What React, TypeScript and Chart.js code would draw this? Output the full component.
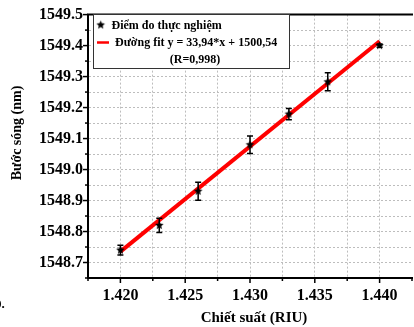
import React, { useEffect, useRef } from "react";
import { Chart, registerables } from "chart.js";

Chart.register(...registerables);

// Measured data
const xValues = [1.42, 1.423, 1.426, 1.43, 1.433, 1.436, 1.44];
const yValues = [1548.74, 1548.82, 1548.93, 1549.08, 1549.179, 1549.283, 1549.4];
const yErrors = [0.016, 0.023, 0.029, 0.028, 0.018, 0.029, 0.005];

// Fit line end points
const fitX = [1.42, 1.44];
const fitY = [1548.735, 1549.414];

const legendPoints = "Điểm đo thực nghiệm";
const legendFit = "Đường fit y = 33,94*x + 1500,54";
const legendR = "(R=0,998)";
const xTitle = "Chiết suất (RIU)";
const yTitle = "Bước sóng (nm)";

const FONT = '"Liberation Serif", "Times New Roman", serif';

function makeStar(r: number): HTMLCanvasElement {
  const c = document.createElement("canvas");
  const s = Math.ceil(r * 2 + 2);
  c.width = s;
  c.height = s;
  const g = c.getContext("2d")!;
  g.fillStyle = "#000";
  g.beginPath();
  for (let i = 0; i < 10; i++) {
    const rr = i % 2 === 0 ? r : r * 0.45;
    const a = -Math.PI / 2 + (i * Math.PI) / 5;
    const px = s / 2 + rr * Math.cos(a);
    const py = s / 2 + rr * Math.sin(a);
    if (i === 0) g.moveTo(px, py);
    else g.lineTo(px, py);
  }
  g.closePath();
  g.fill();
  return c;
}

const isMultiple = (v: number, step: number) =>
  Math.abs(v / step - Math.round(v / step)) < 1e-6;

export default function App() {
  const ref = useRef<HTMLCanvasElement>(null);

  useEffect(() => {
    if (!ref.current) return;
    const star = makeStar(4.5);
    const legendStar = makeStar(4.5);

    const framePlugin = {
      id: "frame",
      beforeDatasetsDraw(chart: any) {
        const { ctx, chartArea } = chart;
        ctx.save();
        ctx.strokeStyle = "#000";
        ctx.lineWidth = 2;
        ctx.beginPath();
        ctx.moveTo(chartArea.left - 1, chartArea.top);
        ctx.lineTo(chartArea.right + 1, chartArea.top);
        ctx.stroke();
        // tick marks
        const xs = chart.scales.x;
        const ys = chart.scales.y;
        ctx.lineWidth = 1.5;
        xs.ticks.forEach((t: any) => {
          const px = xs.getPixelForValue(t.value);
          const len = isMultiple(t.value, 0.005) ? 5 : 3;
          ctx.beginPath();
          ctx.moveTo(px, chartArea.bottom);
          ctx.lineTo(px, chartArea.bottom + len);
          ctx.stroke();
        });
        ys.ticks.forEach((t: any) => {
          const py = ys.getPixelForValue(t.value);
          const len = isMultiple(t.value, 0.1) ? 5 : 3;
          ctx.beginPath();
          ctx.moveTo(chartArea.left, py);
          ctx.lineTo(chartArea.left - len, py);
          ctx.stroke();
        });
        ctx.restore();
      },
      afterDatasetsDraw(chart: any) {
        const { ctx } = chart;
        const ys = chart.scales.y;
        const meta = chart.getDatasetMeta(1);
        ctx.save();
        ctx.strokeStyle = "#000";
        ctx.lineWidth = 1.5;
        meta.data.forEach((pt: any, i: number) => {
          const x = pt.x;
          const y1 = ys.getPixelForValue(yValues[i] + yErrors[i]);
          const y2 = ys.getPixelForValue(yValues[i] - yErrors[i]);
          ctx.beginPath();
          ctx.moveTo(x, y1);
          ctx.lineTo(x, y2);
          ctx.moveTo(x - 3, y1);
          ctx.lineTo(x + 3, y1);
          ctx.moveTo(x - 3, y2);
          ctx.lineTo(x + 3, y2);
          ctx.stroke();
        });
        ctx.restore();
      },
      afterDraw(chart: any) {
        const { ctx } = chart;
        ctx.save();
        // legend box
        ctx.fillStyle = "#fff";
        ctx.fillRect(93, 14, 196, 54);
        ctx.strokeStyle = "#333";
        ctx.lineWidth = 1;
        ctx.strokeRect(93.5, 14.5, 196, 54);
        ctx.drawImage(legendStar, 100.7 - legendStar.width / 2, 25 - legendStar.height / 2);
        ctx.strokeStyle = "#ff0000";
        ctx.lineWidth = 2.5;
        ctx.beginPath();
        ctx.moveTo(97, 42.5);
        ctx.lineTo(109, 42.5);
        ctx.stroke();
        ctx.fillStyle = "#000";
        ctx.font = `bold 12px ${FONT}`;
        ctx.textBaseline = "middle";
        ctx.textAlign = "left";
        ctx.fillText(legendPoints, 111.5, 25.5);
        ctx.fillText(legendFit, 115, 43);
        ctx.textAlign = "center";
        ctx.fillText(legendR, 195, 59.5);
        // axis titles
        ctx.font = `bold 15px ${FONT}`;
        ctx.fillText(xTitle, 254, 318.5);
        ctx.save();
        ctx.translate(17, 133);
        ctx.rotate(-Math.PI / 2);
        ctx.font = `bold 14px ${FONT}`;
        ctx.fillText(yTitle, 0, 0);
        ctx.restore();
        ctx.restore();
      },
    };

    const chart = new Chart(ref.current, {
      type: "scatter",
      data: {
        datasets: [
          {
            label: "fit",
            data: fitX.map((x, i) => ({ x, y: fitY[i] })),
            showLine: true,
            borderColor: "#ff0000",
            borderWidth: 4,
            pointRadius: 0,
            order: 2,
          },
          {
            label: "points",
            data: xValues.map((x, i) => ({ x, y: yValues[i] })),
            pointStyle: star as any,
            pointRadius: 4.5,
            order: 1,
          },
        ],
      },
      options: {
        animation: false,
        responsive: false,
        devicePixelRatio: 1,
        layout: { autoPadding: false, padding: { top: 11, right: 3.8, left: 0, bottom: 0 } },
        plugins: { legend: { display: false }, tooltip: { enabled: false } },
        scales: {
          x: {
            type: "linear",
            min: 1.4175,
            max: 1.4425,
            afterFit: (s: any) => {
              s.height = 49;
            },
            ticks: {
              stepSize: 0.0025,
              autoSkip: false,
              maxRotation: 0,
              padding: 8,
              color: "#000",
              font: { family: FONT, size: 16, weight: "bold" },
              callback: (v: any) => (isMultiple(Number(v), 0.005) ? Number(v).toFixed(3) : ""),
            },
            grid: {
              color: (c: any) =>
                c.tick && c.tick.value > 1.4424 ? "rgba(0,0,0,0)" : "#bdbdbd",
              lineWidth: 1,
              drawTicks: false,
            },
            border: { display: true, color: "#000", width: 2, dash: [2, 2] } as any,
          },
          y: {
            type: "linear",
            min: 1548.65,
            max: 1549.5,
            afterFit: (s: any) => {
              s.width = 88;
            },
            ticks: {
              stepSize: 0.05,
              autoSkip: false,
              padding: 5,
              color: "#000",
              font: { family: FONT, size: 16, weight: "bold" },
              callback: (v: any) => (isMultiple(Number(v), 0.1) ? Number(v).toFixed(1) : ""),
            },
            grid: {
              color: "#bdbdbd",
              lineWidth: 1,
              drawTicks: false,
            },
            border: { display: true, color: "#000", width: 2, dash: [2, 2] } as any,
          },
        },
      },
      plugins: [framePlugin],
    });
    return () => chart.destroy();
  }, []);

  return (
    <div
      style={{
        position: "fixed",
        left: 0,
        top: 0,
        width: 414,
        height: 327,
        overflow: "hidden",
        background: "#fff",
      }}
    >
      <canvas ref={ref} width={420} height={327} style={{ display: "block" }} />
      <span
        style={{
          position: "absolute",
          left: -5,
          top: 296,
          fontFamily: FONT,
          fontWeight: "bold",
          fontSize: 13,
          color: "#000",
        }}
      >
        0.
      </span>
    </div>
  );
}
